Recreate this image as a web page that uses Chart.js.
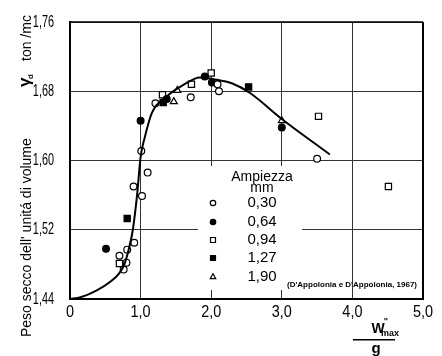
<!DOCTYPE html>
<html>
<head>
<meta charset="utf-8">
<script src="https://cdn.jsdelivr.net/npm/chart.js@4.4.1/dist/chart.umd.min.js"></script>
<style>
  html, body { margin: 0; padding: 0; background: #fff; }
  #wrap { width: 442px; height: 356px; }
</style>
</head>
<body>
<div id="wrap"><canvas id="c" width="442" height="356"></canvas></div>
<script>
/* ── Dati ── */
const xTicks = [0, 1, 2, 3, 4, 5];
const yTicks = [1.44, 1.52, 1.60, 1.68, 1.76];

const amp030 = [[0.70,1.490],[0.76,1.474],[0.80,1.482],[0.81,1.497],[0.91,1.505],[0.90,1.570],[1.02,1.559],
                [1.10,1.586],[1.01,1.611],[1.21,1.666],[1.71,1.673],[2.09,1.688],[2.11,1.680],[3.50,1.602]];
const amp064 = [[0.51,1.498],[1.00,1.646],[1.37,1.671],[1.91,1.697],[2.01,1.690],[3.00,1.638]];
const amp094 = [[0.70,1.481],[1.31,1.676],[1.72,1.688],[2.00,1.701],[3.52,1.651],[4.51,1.570]];
const amp127 = [[0.81,1.533],[1.32,1.667],[2.53,1.685]];
const amp190 = [[1.47,1.668],[1.52,1.681],[3.00,1.646]];

const curveX = [0, 0.15, 0.38, 0.57, 0.70, 0.77, 0.84, 0.89, 0.95, 1.00, 1.06, 1.16, 1.37, 1.60, 1.84, 2.03, 2.30, 2.55, 3.00, 3.68];
const curveY = [1.440, 1.442, 1.450, 1.460, 1.470, 1.480, 1.500, 1.520, 1.560, 1.604, 1.627, 1.655, 1.674, 1.687, 1.696, 1.694, 1.689, 1.678, 1.648, 1.607];

const legendLabels = ['0,30', '0,64', '0,94', '1,27', '1,90'];

const pts = arr => arr.map(p => ({ x: p[0], y: p[1] }));
const fmtY = v => v.toFixed(2).replace('.', ',');
const fmtX = v => v === 0 ? '0' : v.toFixed(1).replace('.', ',');

const FONT = "'Liberation Sans', Arial, sans-serif";

const markers = [
  { style: 'circle',   fill: '#fff', r: 3.4 },
  { style: 'circle',   fill: '#000', r: 3.4 },
  { style: 'rect',     fill: '#fff', r: 4.4 },
  { style: 'rect',     fill: '#000', r: 4.4 },
  { style: 'triangle', fill: '#fff', r: 4.0 },
];

function scatterSet(label, data, m) {
  return {
    type: 'scatter', label, data: pts(data),
    pointStyle: m.style, pointRadius: m.r, pointHoverRadius: m.r,
    backgroundColor: m.fill, borderColor: '#000', pointBorderWidth: 1.2,
  };
}

// testo stretto (font condensato simulato)
function narrowText(ctx, txt, x, y, align, sx) {
  ctx.save();
  ctx.translate(x, y);
  ctx.scale(sx, 1);
  ctx.textAlign = align;
  ctx.fillText(txt, 0, 0);
  ctx.restore();
}

/* ── Plugin: cornice, etichette assi, legenda, titoli ── */
const decor = {
  id: 'decor',
  afterDatasetsDraw(chart) {
    const ctx = chart.ctx, a = chart.chartArea;
    const sx = chart.scales.x, sy = chart.scales.y;
    ctx.save();
    // cornice
    ctx.strokeStyle = '#000';
    ctx.lineWidth = 1.5;
    ctx.beginPath();
    ctx.moveTo(a.left, a.top); ctx.lineTo(a.right, a.top);
    ctx.stroke();
    ctx.lineWidth = 2;
    ctx.beginPath();
    ctx.moveTo(a.right, a.top); ctx.lineTo(a.right, a.bottom);
    ctx.stroke();

    // etichette dei tick
    ctx.fillStyle = '#000';
    ctx.textBaseline = 'middle';
    ctx.font = '17px ' + FONT;
    yTicks.forEach(v => narrowText(ctx, fmtY(v), 54, sy.getPixelForValue(v), 'right', 0.64));
    xTicks.forEach(v => narrowText(ctx, fmtX(v), sx.getPixelForValue(v), 312, 'center', 0.85));

    // legenda (sfondo bianco copre la griglia)
    ctx.fillStyle = '#fff';
    ctx.fillRect(198, 166, 104, 124);
    ctx.fillStyle = '#000';
    ctx.textAlign = 'center';
    ctx.font = '14px ' + FONT;
    ctx.fillText('Ampiezza', 262, 177);
    ctx.fillText('mm', 262, 188);
    ctx.font = '15px ' + FONT;
    const ly = [203, 222, 240, 258, 277];
    legendLabels.forEach((t, i) => {
      ctx.fillText(t, 262, ly[i]);
      const m = markers[i];
      ctx.fillStyle = m.fill;
      ctx.strokeStyle = '#000';
      ctx.lineWidth = 1.2;
      Chart.helpers.drawPoint(ctx, { pointStyle: m.style, radius: m.r * 0.8, borderWidth: 1.2 }, 213, ly[i]);
      ctx.fillStyle = '#000';
    });

    // citazione
    ctx.font = 'bold 8px ' + FONT;
    ctx.textAlign = 'left';
    ctx.fillText("(D'Appolonia e D'Appolonia, 1967)", 287, 285);

    // titolo asse x: W''max / g
    ctx.font = 'bold 14px ' + FONT;
    ctx.textAlign = 'center';
    ctx.textBaseline = 'alphabetic';
    ctx.fillText('W', 378, 333);
    ctx.font = 'bold 9px ' + FONT;
    ctx.fillText('"', 386, 324);
    ctx.fillText('max', 390, 336);
    ctx.fillRect(353, 339, 42, 1.5);
    ctx.font = 'bold 15px ' + FONT;
    ctx.fillText('g', 376, 353);

    // titolo asse y (ruotato)
    ctx.rotate(-Math.PI / 2);
    ctx.textAlign = 'left';
    ctx.font = '14px ' + FONT;
    ctx.fillText("Peso secco dell' unitá di volume", -337, 31);
    ctx.font = 'bold 17px ' + FONT;
    ctx.fillText('γ', -87, 30);
    ctx.font = 'bold 8px ' + FONT;
    ctx.fillText('d', -79, 33);
    ctx.font = '14px ' + FONT;
    ctx.fillText('ton /mc', -61, 31);
    ctx.restore();
  }
};

new Chart(document.getElementById('c'), {
  type: 'scatter',
  data: {
    datasets: [
      {
        type: 'line', label: 'curva',
        data: curveX.map((x, i) => ({ x, y: curveY[i] })),
        borderColor: '#000', borderWidth: 2, pointRadius: 0,
        cubicInterpolationMode: 'monotone', fill: false,
      },
      scatterSet('0,30', amp030, markers[0]),
      scatterSet('0,64', amp064, markers[1]),
      scatterSet('0,94', amp094, markers[2]),
      scatterSet('1,27', amp127, markers[3]),
      scatterSet('1,90', amp190, markers[4]),
    ],
  },
  options: {
    responsive: false,
    animation: false,
    layout: { padding: { left: 0, top: 22, right: 19, bottom: 0 } },
    plugins: { legend: { display: false }, tooltip: { enabled: false } },
    scales: {
      x: {
        type: 'linear', min: 0, max: 5,
        afterBuildTicks: s => { s.ticks = xTicks.map(v => ({ value: v })); },
        afterFit: s => { s.height = 57; },
        border: { color: '#000', width: 2 },
        grid: { color: '#333', lineWidth: 1, drawTicks: false },
        ticks: { display: false },
      },
      y: {
        type: 'linear', min: 1.44, max: 1.76,
        afterBuildTicks: s => { s.ticks = yTicks.map(v => ({ value: v })); },
        afterFit: s => { s.width = 70; },
        border: { color: '#000', width: 2 },
        grid: { color: '#333', lineWidth: 1, drawTicks: false },
        ticks: { display: false },
      },
    },
  },
  plugins: [decor],
});
</script>
</body>
</html>
